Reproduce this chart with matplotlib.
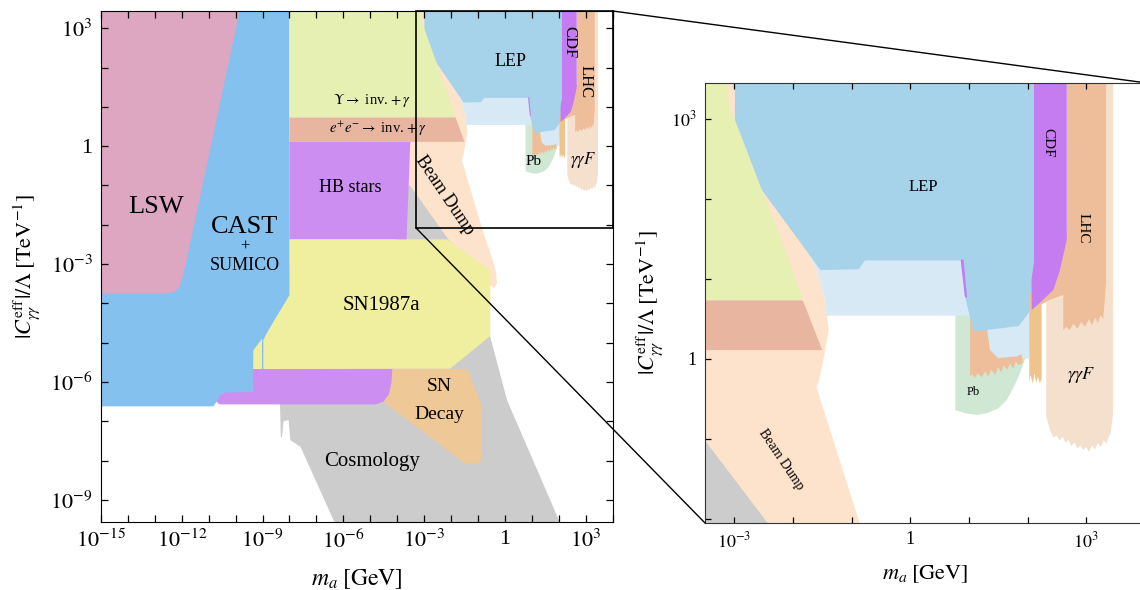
import numpy as np
import matplotlib
matplotlib.use("Agg")
import matplotlib.pyplot as plt
from matplotlib.patches import Rectangle, ConnectionPatch
from matplotlib.ticker import FixedLocator, FuncFormatter, NullLocator

plt.rcParams['font.family'] = ['Liberation Serif', 'DejaVu Serif']
plt.rcParams['mathtext.fontset'] = 'stix'

# ===== Region outlines: log10(m_a / GeV), log10(|C| / Lambda / TeV^-1) =====
cosmo_x = [-4.0, -3.0, -1.5, -0.8, -0.54, 0.08, 2.03, 2.05, -6.34, -6.34, -7.59, -7.97, -8.03,
           -8.22, -8.28, -8.32, -8.35, -8.40, -8.40, -4.0]
cosmo_y = [-0.95, -0.95, -2.6, -4.5, -4.85, -6.46, -9.55, -10.0, -10.0, -9.55, -7.65, -7.48, -6.97,
           -7.00, -7.42, -7.40, -6.59, -6.50, -5.00, -2.40]

beam_x = [-3.6, -1.6, -1.6, -1.76, -1.59, -1.45, -1.39, -1.45, -1.55, -1.60, -0.85, -0.45,
          -0.33, -0.29, -0.40, -0.60, -2.10, -3.49, -3.6]
beam_y = [3.6, 3.6, 1.5, 1.36, 1.11, 0.74, 0.36, 0.11, -0.26, -0.35, -2.08, -2.9,
          -3.2, -3.49, -3.62, -3.5, -2.37, -1.03, -1.0]

ggf_x = [2.32, 2.50, 3.30, 3.46, 3.46, 3.44, 3.42, 3.38, 3.35, 3.30, 3.25, 3.20, 3.15, 3.10,
         3.05, 3.00, 2.95, 2.90, 2.85, 2.80, 2.75, 2.70, 2.65, 2.60, 2.55, 2.50, 2.44, 2.38, 2.32]
ggf_y = [0.72, 0.80, 3.6, 3.6, -0.68, -0.80, -0.92, -0.98, -1.06, -1.02, -1.10, -1.05, -1.13,
         -1.08, -1.16, -1.10, -1.14, -1.08, -1.12, -1.04, -1.09, -1.01, -1.05, -0.97, -1.02,
         -0.96, -0.98, -0.88, -0.72]

pb_x = [0.77, 2.05, 2.02, 1.95, 1.87, 1.78, 1.65, 1.50, 1.30, 1.14, 0.95, 0.77]
pb_y = [0.55, 0.55, 0.11, -0.02, -0.18, -0.33, -0.51, -0.62, -0.68, -0.70, -0.68, -0.64]

leplt_x = [-1.76, 2.06, 2.06, 2.02, 1.82, 1.50, 1.36, 1.31, 1.00, -1.43, -1.45, -1.59]
leplt_y = [1.36, 1.36, 0.30, 0.00, 0.02, 0.00, 0.11, 0.36, 0.54, 0.54, 0.74, 1.11]

pbo_x = [1.02, 1.10, 1.20, 1.31, 1.36, 1.50, 1.82, 1.90, 1.92, 1.85, 1.80, 1.76, 1.70, 1.65,
         1.60, 1.55, 1.50, 1.45, 1.38, 1.33, 1.28, 1.22, 1.15, 1.10, 1.06, 1.02]
pbo_y = [0.59, 0.59, 0.45, 0.36, 0.11, 0.01, 0.03, 0.06, -0.05, -0.08, -0.03, -0.12, -0.06,
         -0.14, -0.08, -0.17, -0.10, -0.20, -0.13, -0.22, -0.15, -0.23, -0.18, -0.24, -0.19, -0.22]

lep_x = [-2.99, 2.11, 2.11, 2.10, 1.85, 1.08, 0.94, 0.88, -0.77, -0.88, -1.53, -2.53, -2.99]
lep_y = [3.6, 3.6, 0.65, 0.65, 0.41, 0.34, 0.76, 1.23, 1.23, 1.12, 1.11, 2.11, 2.59]

lepp_x = [0.86, 0.91, 0.97, 0.93]
lepp_y = [1.24, 1.24, 0.76, 0.78]

strip_x = [2.03, 2.24, 2.24, 2.21, 2.18, 2.15, 2.12, 2.09, 2.05, 2.03]
strip_y = [0.82, 0.82, -0.25, -0.31, -0.22, -0.30, -0.18, -0.31, -0.20, -0.30]

lhc_x = [2.67, 3.34, 3.34, 3.29, 3.25, 3.20, 3.15, 3.10, 3.05, 2.98, 2.92, 2.85, 2.78, 2.72,
         2.66, 2.61, 2.61, 2.39, 2.21, 2.15, 2.67]
lhc_y = [3.6, 3.6, 0.95, 0.49, 0.55, 0.45, 0.52, 0.42, 0.50, 0.40, 0.46, 0.38, 0.44, 0.36,
         0.40, 0.36, 0.80, 0.74, 0.67, 0.66, 1.60]

cdf_x = [2.11, 2.67, 2.67, 2.55, 2.44, 2.21, 2.07, 2.07, 2.11]
cdf_y = [3.6, 3.6, 1.49, 1.10, 0.86, 0.70, 0.61, 1.00, 1.20]

sndec_x = [-4.21, -1.41, -0.88, -0.86, -0.86, -0.95, -1.49, -4.53, -4.35, -4.25]
sndec_y = [-5.67, -5.67, -6.55, -6.70, -7.95, -8.07, -8.07, -6.50, -6.35, -6.10]

sn87_x = [-8.0, -2.15, -0.54, -0.54, -2.03, -9.36, -9.36, -8.0]
sn87_y = [-2.37, -2.37, -3.16, -4.83, -5.66, -5.67, -4.5, -3.0]

cast_x = [-15.1, -8.0, -8.0, -8.78, -8.97, -8.97, -9.02, -9.02, -9.34, -9.36, -10.5, -10.83, -15.1]
cast_y = [3.6, 3.6, -3.79, -4.68, -4.93, -5.70, -5.70, -4.90, -5.19, -6.30, -6.30, -6.62, -6.62]

hb2_x = [-9.36, -4.18, -4.21, -4.30, -4.50, -4.80, -10.60, -10.72, -10.55, -10.40, -9.36]
hb2_y = [-5.67, -5.67, -6.00, -6.30, -6.50, -6.57, -6.57, -6.50, -6.32, -6.27, -6.25]

lsw_x = [-15.1, -9.8, -11.85, -12.0, -12.1, -12.3, -12.6, -15.1]
lsw_y = [3.6, 3.6, -2.99, -3.4, -3.6, -3.72, -3.75, -3.75]

ups_x = [-8.0, -3.1, -3.1, -2.53, -2.13, -1.83, -8.0]
ups_y = [3.6, 3.6, 3.2, 2.11, 1.36, 0.73, 0.73]

ee_x = [-8.0, -1.83, -1.50, -8.0]
ee_y = [0.73, 0.73, 0.11, 0.11]

hb_x = [-8.0, -3.51, -3.65, -8.0]
hb_y = [0.11, 0.11, -2.37, -2.37]

# drawing order (back to front)
regions = [
    (cosmo_x, cosmo_y, '#cccccc'),
    (beam_x, beam_y, '#fde3cb'),
    (ggf_x, ggf_y, '#f5dfcd'),
    (pb_x, pb_y, '#d0e8d3'),
    (leplt_x, leplt_y, '#d6e9f5'),
    (pbo_x, pbo_y, '#eebe9a'),
    (lep_x, lep_y, '#a6d3ea'),
    (lepp_x, lepp_y, '#c47cf0'),
    (strip_x, strip_y, '#efc38c'),
    (lhc_x, lhc_y, '#eebe9a'),
    (cdf_x, cdf_y, '#c47cf0'),
    (sndec_x, sndec_y, '#efc897'),
    (sn87_x, sn87_y, '#f0ee9f'),
    (cast_x, cast_y, '#84c1ef'),
    (hb2_x, hb2_y, '#cc8ef1'),
    (lsw_x, lsw_y, '#dda6c1'),
    (ups_x, ups_y, '#e6f0b3'),
    (ee_x, ee_y, '#e8b6a0'),
    (hb_x, hb_y, '#cc8ef1'),
]

# labels: text, log x, log y, size, rotation
labels_main = [
    ("LSW", -12.96, -1.54, 19, 0),
    ("CAST", -9.65, -2.05, 19, 0),
    ("+", -9.65, -2.56, 12, 0),
    ("SUMICO", -9.65, -3.03, 13, 0),
    (r"$\Upsilon \rightarrow$ inv. $+\,\gamma$", -4.94, 1.17, 10.5, 0),
    (r"$e^{+}e^{-} \rightarrow$ inv. $+\,\gamma$", -4.72, 0.45, 10.5, 0),
    ("HB stars", -5.75, -1.05, 13, 0),
    ("Beam Dump", -2.22, -1.25, 13, -56),
    ("LEP", 0.20, 2.15, 13, 0),
    ("CDF", 2.40, 2.65, 12, -90),
    ("LHC", 2.99, 1.64, 12, -90),
    ("Pb", 1.08, -0.40, 11, 0),
    (r"$\gamma\gamma F$", 2.92, -0.34, 12, 0),
    ("SN1987a", -4.58, -4.05, 15, 0),
    ("SN", -2.45, -6.12, 14, 0),
    ("Decay", -2.45, -6.84, 14, 0),
    ("Cosmology", -4.94, -8.03, 15, 0),
]
labels_zoom = [
    ("LEP", 0.22, 2.15, 12, 0),
    ("CDF", 2.35, 2.70, 11, -90),
    ("LHC", 2.95, 1.63, 11, -90),
    ("Pb", 1.08, -0.41, 9, 0),
    (r"$\gamma\gamma F$", 2.92, -0.20, 13, 0),
    ("Beam Dump", -2.21, -1.26, 10, -56),
]

# axis limits (log10)
main_xlim = (-15, 4)
main_ylim = (-9.55, 3.44)
zoom_xlim = (-3.5, 4)
zoom_ylim = (-2.05, 3.45)
box_x0, box_y0 = -3.3, -2.08


def log_fmt(v, pos):
    e = int(round(np.log10(v)))
    if e % 3 != 0:
        return ""
    if e == 0:
        return "1"
    return r"$10^{%d}$" % e


def setup(ax, xlim, ylim, size, ticklen, right=True):
    ax.set_xscale('log')
    ax.set_yscale('log')
    ax.set_xlim(10.0 ** xlim[0], 10.0 ** xlim[1])
    ax.set_ylim(10.0 ** ylim[0], 10.0 ** ylim[1])
    xt = [10.0 ** e for e in range(int(np.ceil(xlim[0])), int(np.floor(xlim[1])) + 1)]
    yt = [10.0 ** e for e in range(int(np.ceil(ylim[0])), int(np.floor(ylim[1])) + 1)]
    ax.xaxis.set_major_locator(FixedLocator(xt))
    ax.yaxis.set_major_locator(FixedLocator(yt))
    ax.xaxis.set_minor_locator(NullLocator())
    ax.yaxis.set_minor_locator(NullLocator())
    ax.xaxis.set_major_formatter(FuncFormatter(log_fmt))
    ax.yaxis.set_major_formatter(FuncFormatter(log_fmt))
    ax.tick_params(which='both', direction='in', top=True, right=right,
                   length=ticklen, width=0.9, labelsize=size, pad=6)


def draw(ax, labels):
    for x, y, c in regions:
        ax.fill(10.0 ** np.array(x), 10.0 ** np.array(y), color=c, lw=0)
    for t, x, y, s, r in labels:
        ax.text(10.0 ** x, 10.0 ** y, t, fontsize=s, rotation=r,
                ha='center', va='center', rotation_mode='anchor')


ylab = r"$|C^{\mathrm{eff}}_{\gamma\gamma}|/\Lambda\;[\mathrm{TeV}^{-1}]$"
xlab = r"$m_a\;[\mathrm{GeV}]$"

fig = plt.figure(figsize=(11.4, 5.9), dpi=100)
ax1 = fig.add_axes([0.0886, 0.1161, 0.4487, 0.8653])
ax2 = fig.add_axes([0.6184, 0.1136, 0.3858, 0.7462])

draw(ax1, labels_main)
setup(ax1, main_xlim, main_ylim, 16, 5)
ax1.set_xlabel(xlab, fontsize=17, labelpad=10)
ax1.set_ylabel(ylab, fontsize=16, labelpad=6)

draw(ax2, labels_zoom)
setup(ax2, zoom_xlim, zoom_ylim, 13, 4, right=False)
ax2.set_xlabel(xlab, fontsize=16, labelpad=9)
ax2.set_ylabel(ylab, fontsize=16, labelpad=4)
for sp in ax2.spines.values():
    sp.set_color('#333333')

# zoom box and connector lines
x0, y0 = 10.0 ** box_x0, 10.0 ** box_y0
x1, y1 = 10.0 ** main_xlim[1], 10.0 ** main_ylim[1]
ax1.add_patch(Rectangle((x0, y0), x1 - x0, y1 - y0, fill=False, lw=1.2,
                        edgecolor='black', zorder=10, clip_on=False))
for pa, pb_ in [((x1, y1), (10.0 ** zoom_xlim[1], 10.0 ** zoom_ylim[1])),
                ((x0, y0), (10.0 ** zoom_xlim[0], 10.0 ** zoom_ylim[0]))]:
    con = ConnectionPatch(xyA=pa, coordsA=ax1.transData, xyB=pb_, coordsB=ax2.transData,
                          color='black', lw=1.0, zorder=10)
    fig.add_artist(con)

fig.savefig("out.png", dpi=100)
